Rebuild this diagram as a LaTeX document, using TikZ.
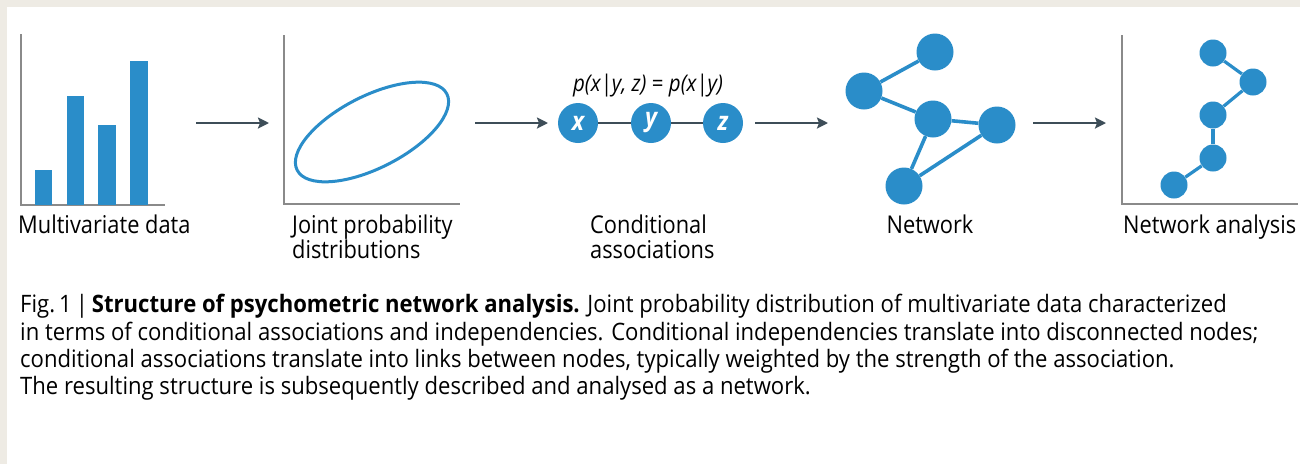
\documentclass[tikz,border=0pt]{standalone}
\usepackage{fontspec}
\setmainfont{Open Sans}
\newfontfamily\labfont{Open Sans}[FakeStretch=0.89]
\newfontfamily\capfont{Open Sans}[FakeStretch=0.92]
\usetikzlibrary{arrows.meta}
\definecolor{nblue}{HTML}{2A8DC9}
\definecolor{axisgray}{HTML}{8A8A8A}
\definecolor{arrowgray}{HTML}{3D4D58}
\definecolor{beige}{HTML}{EEEBE4}
\tikzset{
  axis/.style={draw=axisgray, line width=1.4pt},
  barfill/.style={fill=nblue},
  flow/.style={draw=arrowgray, line width=2.4pt, -{Stealth[length=11pt,width=11pt,inset=2pt]}},
  bignode/.style={circle, fill=nblue, minimum size=37pt, inner sep=0pt},
  smallnode/.style={circle, fill=nblue, minimum size=27pt, inner sep=0pt},
  cnode/.style={circle, fill=nblue, minimum size=40pt, inner sep=0pt, text=white, font=\labfont\bfseries\itshape\fontsize{26}{26}\selectfont},
  link/.style={draw=nblue, line width=3.6pt},
  thinlink/.style={draw=arrowgray, line width=1.1pt},
  lab/.style={font=\labfont\fontsize{24.5}{25}\selectfont, align=left, anchor=base west, inner sep=0pt},
  capline/.style={font=\capfont\fontsize{24}{27}\selectfont, anchor=base west, inner sep=0pt}
}
\begin{document}
\begin{tikzpicture}[x=1pt,y=-1pt]
\useasboundingbox (0,0) rectangle (1300,464);
\fill[beige] (0,0) rectangle (1300,464);
\fill[white] (7,7) rectangle (1300,464);

% Panel 1: multivariate data
\coordinate (p1top) at (21,34);
\coordinate (p1o) at (21,205);
\coordinate (p1r) at (165,205);
\draw[axis] (p1top) -- (p1o) -- (p1r);
\fill[barfill] (35,170) rectangle (52,205);
\fill[barfill] (67,96) rectangle (84,205);
\fill[barfill] (98,125) rectangle (116,205);
\fill[barfill] (130,61) rectangle (148,205);
\node[lab] (l1) at (18,233) {Multivariate data};

% Panel 2: joint probability
\coordinate (p2top) at (284,35);
\coordinate (p2o) at (284,204);
\coordinate (p2r) at (460,204);
\draw[axis] (p2top) -- (p2o) -- (p2r);
\draw[nblue, line width=3pt, rotate around={27:(372,132)}] (372,132) ellipse [x radius=84, y radius=36];
\node[lab] (l2) at (292,258) {Joint probability\\distributions};

% Panel 3: conditional associations
\node[cnode] (x) at (578,123) {x};
\node[cnode] (y) at (651,123) {y};
\node[cnode] (z) at (723,123) {z};
\draw[thinlink] (x) -- (y);
\draw[thinlink] (y) -- (z);
\node[font=\labfont\fontsize{23}{23}\selectfont, inner sep=0pt, anchor=base] (eq) at (648,91) {\itshape p(x|y, z)\upshape{} = \itshape p(x|y)};
\node[lab] (l3) at (590,258) {Conditional\\associations};

% Panel 4: network
\node[bignode] (A) at (935,52) {};
\node[bignode] (B) at (864,91) {};
\node[bignode] (C) at (933,119) {};
\node[bignode] (D) at (997,125) {};
\node[bignode] (E) at (904,186) {};
\draw[link] (A) -- (B);
\draw[link] (B) -- (C);
\draw[link] (C) -- (D);
\draw[link] (C) -- (E);
\draw[link] (E) -- (D);
\node[lab, anchor=base] (l4) at (930,233) {Network};

% Panel 5: network analysis
\coordinate (p5top) at (1122,35);
\coordinate (p5o) at (1122,204);
\coordinate (p5r) at (1298,204);
\draw[axis] (p5top) -- (p5o) -- (p5r);
\node[smallnode] (n1) at (1213,53) {};
\node[smallnode] (n2) at (1253,82) {};
\node[smallnode] (n3) at (1213,115) {};
\node[smallnode] (n4) at (1213,158) {};
\node[smallnode] (n5) at (1174,185) {};
\draw[link, line width=3.2pt] (n1) -- (n2);
\draw[link, line width=3.2pt] (n2) -- (n3);
\draw[link, line width=3.2pt] (n3) -- (n4);
\draw[link, line width=3.2pt] (n4) -- (n5);
\node[lab] (l5) at (1123,233) {Network analysis};

% Flow arrows
\coordinate (a1s) at (196,123); \coordinate (a1e) at (269,123);
\coordinate (a2s) at (475,123); \coordinate (a2e) at (548,123);
\coordinate (a3s) at (755,123); \coordinate (a3e) at (828,123);
\coordinate (a4s) at (1033,123); \coordinate (a4e) at (1106,123);
\draw[flow] (a1s) -- (a1e);
\draw[flow] (a2s) -- (a2e);
\draw[flow] (a3s) -- (a3e);
\draw[flow] (a4s) -- (a4e);

% Caption
\node[capline] (c1) at (20,312) {Fig.\,1\,|\,\textbf{Structure of psychometric network analysis.} Joint probability distribution of multivariate data characterized};
\node[capline] (c2) at (20,340) {in terms of conditional associations and independencies. Conditional independencies translate into disconnected nodes;};
\node[capline] (c3) at (20,367) {conditional associations translate into links between nodes, typically weighted by the strength of the association.};
\node[capline] (c4) at (20,394) {The resulting structure is subsequently described and analysed as a network.};
\end{tikzpicture}
\end{document}
